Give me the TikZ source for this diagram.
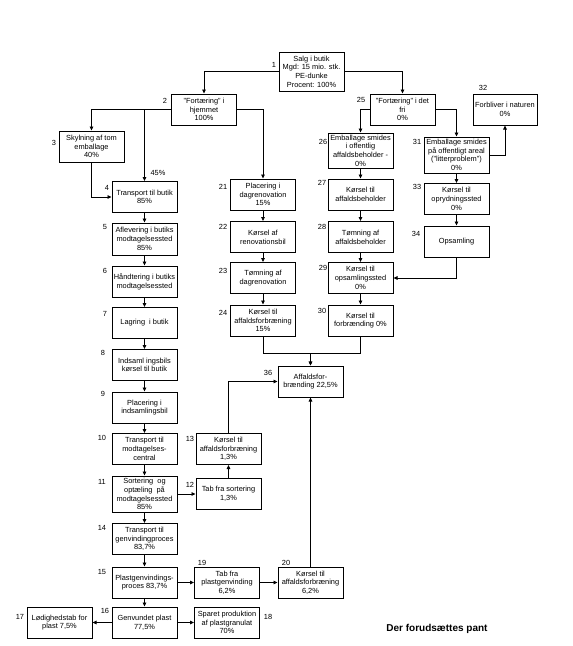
\documentclass[tikz,border=0pt]{standalone}
\usepackage{fontspec}
\setmainfont{Liberation Sans}
\usetikzlibrary{arrows.meta}

\begin{document}
\begin{tikzpicture}[
  x=1pt, y=-1pt,
  font=\fontsize{7.4}{8.7}\selectfont,
  >={Triangle[length=4pt,width=3.6pt]},
  line width=0.8pt,
  every node/.style={align=center},
  box/.style   = {draw, line width=1pt, inner xsep=0.5pt, inner ysep=0.8pt,
                  minimum width=65pt, minimum height=31pt},
  num/.style   = {inner sep=0pt},
  title/.style = {font=\fontsize{10}{12}\selectfont\bfseries}
]
\useasboundingbox (0,0) rectangle (573,646);

% left column
\node[box, minimum height=39pt] (salg) at (311.5,71.5)
  {Salg i butik\\Mgd: 15 mio. stk.\\PE-dunke\\Procent: 100\%};
\node[box] (hjem) at (204,109.5) {"Fortæring" i\\hjemmet\\100\%};
\node[box] (skyl) at (91.5,146.5) {Skylning af tom\\emballage\\40\%};
\node[box] (trans) at (144.5,197) {Transport til butik\\85\%};
\node[box, minimum height=32pt] (aflev) at (144.5,239)
  {Aflevering i butiks\\modtagelsessted\\85\%};
\node[box] (haand) at (144.5,281.5) {Håndtering i butiks\\modtagelsessted};
\node[box] (lager) at (144.5,323) {Lagring\ \ i butik};
\node[box] (indsam) at (144.5,365) {Indsaml ingsbils\\kørsel til butik};
\node[box] (plac) at (144.5,407.5) {Placering i\\indsamlingsbil};
\node[box] (tmodt) at (144.5,449) {Transport til\\modtagelses-\\central};
\node[box, minimum height=36pt] (sort) at (144.5,494)
  {Sortering\ \ og\\optæling\ \ på\\modtagelsessted\\85\%};
\node[box] (tgenv) at (144.5,539) {Transport til\\genvindingproces\\83,7\%};
\node[box] (pgenv) at (144.5,582.5) {Plastgenvindings-\\proces 83,7\%};
\node[box] (genv) at (144.5,622.5) {Genvundet plast\\77,5\%};
\node[box] (loed) at (59.5,622.5) {Lødighedstab for\\plast 7,5\%};
\node[box] (sparet) at (227,622.5) {Sparet produktion\\af plastgranulat\\70\%};
\node[box] (tabgenv) at (227,582.5) {Tab fra\\plastgenvinding\\6,2\%};
\node[box] (kfor2) at (310.5,582.5) {Kørsel til\\affaldsforbræning\\6,2\%};
\node[box] (tabsort) at (228.5,494) {Tab fra sortering\\1,3\%};
\node[box] (kfor1) at (228.5,449) {Kørsel til\\affaldsforbræning\\1,3\%};
\node[box] (affor) at (310.5,381.5) {Affaldsfor-\\brænding 22,5\%};

% middle and right columns
\node[box] (dagren) at (263,194.5) {Placering i\\dagrenovation\\15\%};
\node[box] (krenov) at (263,237) {Kørsel af\\renovationsbil};
\node[box] (toemdag) at (263,278) {Tømning af\\dagrenovation};
\node[box] (kaff) at (263,320.5) {Kørsel til\\affaldsforbræning\\15\%};
\node[box] (fri) at (402.5,109.5) {"Fortæring" i det\\fri\\0\%};
\node[box, minimum height=35pt] (smid) at (360.5,150.5)
  {Emballage smides\\i offentlig\\affaldsbeholder -\\0\%};
\node[box] (kbeh) at (360.5,194.5) {Kørsel til\\affaldsbeholder};
\node[box] (toembeh) at (360.5,237) {Tømning af\\affaldsbeholder};
\node[box] (kopsam) at (360.5,278) {Kørsel til\\opsamlingssted\\0\%};
\node[box] (kforbr) at (360.5,320.5) {Kørsel til\\forbrænding 0\%};
\node[box, minimum height=36pt] (litter) at (456.5,155)
  {Emballage smides\\på offentligt areal\\("litterproblem")\\0\%};
\node[box, minimum width=64pt] (natur) at (505,109.5) {Forbliver i naturen\\0\%};
\node[box] (kopryd) at (456.5,199) {Kørsel til\\oprydningssted\\0\%};
\node[box] (opsam) at (456.5,241.5) {Opsamling};

% numbers
\node[num] (n1) at (274,65) {1};
\node[num] (n2) at (165,101) {2};
\node[num] (n3) at (54,143) {3};
\node[num] (n4) at (107,188) {4};
\node[num] (n5) at (105,227) {5};
\node[num] (n6) at (105,271) {6};
\node[num] (n7) at (105,314) {7};
\node[num] (n8) at (103,353) {8};
\node[num] (n9) at (103,394) {9};
\node[num] (n10) at (102,438) {10};
\node[num] (n11) at (102,482) {11};
\node[num] (n12) at (190,485) {12};
\node[num] (n13) at (190,439) {13};
\node[num] (n14) at (102,528) {14};
\node[num] (n15) at (102,572) {15};
\node[num] (n16) at (105,611) {16};
\node[num] (n17) at (20,617) {17};
\node[num] (n18) at (268,617) {18};
\node[num] (n19) at (202,563) {19};
\node[num] (n20) at (286,563) {20};
\node[num] (n21) at (223,187) {21};
\node[num] (n22) at (223,227) {22};
\node[num] (n23) at (223,271) {23};
\node[num] (n24) at (223,313) {24};
\node[num] (n25) at (361,100) {25};
\node[num] (n26) at (323,142) {26};
\node[num] (n27) at (322,183) {27};
\node[num] (n28) at (322,227) {28};
\node[num] (n29) at (323,268) {29};
\node[num] (n30) at (322,311) {30};
\node[num] (n31) at (417,142) {31};
\node[num] (n32) at (483,88) {32};
\node[num] (n33) at (417,187) {33};
\node[num] (n34) at (416,234) {34};
\node[num] (n36) at (268,373) {36};
\node[num] (p45) at (158,173) {45\%};

\node[title] (pant) at (437,629) {Der forudsættes pant};

% connectors
\draw[->] (salg.west) -| (hjem.north);
\draw[->] (salg.east) -| (fri.north);
\draw[->] (hjem.west) -| (skyl.north);
\draw[->] (hjem.west) -| (trans.north);
\draw[->] (hjem.east) -| (dagren.north);
\draw[->] (skyl.south) |- (trans.west);
\draw[->] (trans) -- (aflev);
\draw[->] (aflev) -- (haand);
\draw[->] (haand) -- (lager);
\draw[->] (lager) -- (indsam);
\draw[->] (indsam) -- (plac);
\draw[->] (plac) -- (tmodt);
\draw[->] (tmodt) -- (sort);
\draw[->] (sort) -- (tgenv);
\draw[->] (tgenv) -- (pgenv);
\draw[->] (pgenv) -- (genv);
\draw[->] (sort) -- (tabsort);
\draw[->] (tabsort) -- (kfor1);
\draw[->] (kfor1.north) |- (affor.west);
\draw[->] (pgenv) -- (tabgenv);
\draw[->] (tabgenv) -- (kfor2);
\draw[->] (kfor2) -- (affor);
\draw[->] (genv) -- (loed);
\draw[->] (genv) -- (sparet);

\draw[->] (dagren) -- (krenov);
\draw[->] (krenov) -- (toemdag);
\draw[->] (toemdag) -- (kaff);
\coordinate (forJoin) at (310.5,353);
\draw[->] (kaff.south) |- (forJoin) -- (affor.north);
\draw[->] (kforbr.south) |- (forJoin) -- (affor.north);

\draw[->] (fri.west) -| (smid.north);
\draw[->] (fri.east) -| (litter.north);
\draw[->] (litter.east) -| (natur.south);
\draw[->] (smid) -- (kbeh);
\draw[->] (kbeh) -- (toembeh);
\draw[->] (toembeh) -- (kopsam);
\draw[->] (kopsam) -- (kforbr);
\draw[->] (litter) -- (kopryd);
\draw[->] (kopryd) -- (opsam);
\draw[->] (opsam.south) |- (kopsam.east);
\end{tikzpicture}
\end{document}
